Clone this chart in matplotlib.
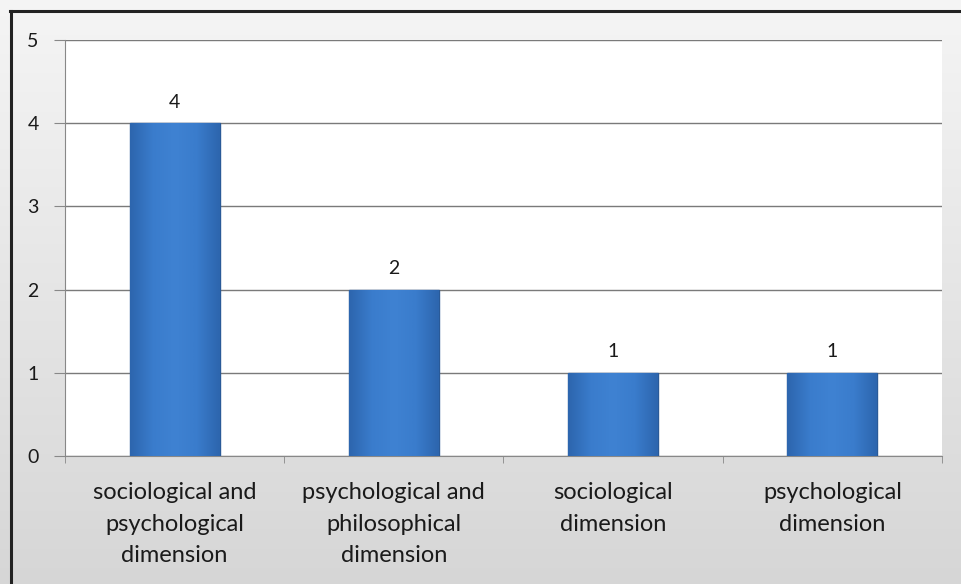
import matplotlib.pyplot as plt
import numpy as np
from matplotlib.lines import Line2D
from matplotlib.colors import LinearSegmentedColormap

categories = ["sociological and\npsychological\ndimension",
              "psychological and\nphilosophical\ndimension",
              "sociological\ndimension",
              "psychological\ndimension"]
counts = [4, 2, 1, 1]
y_ticks = [0, 1, 2, 3, 4, 5]

plt.rcParams['font.family'] = ['Lato', 'DejaVu Sans']

fig = plt.figure(figsize=(9.62, 5.84), dpi=100)

# grey gradient background behind the chart
bg = fig.add_axes([0, 0, 1, 1], zorder=-10)
grad = np.linspace(0, 1, 256).reshape(-1, 1)
top_c = np.array([0.96, 0.96, 0.96])
bot_c = np.array([0.84, 0.84, 0.84])
img = top_c + (bot_c - top_c) * grad[:, :, None]
bg.imshow(img, aspect='auto', extent=[0, 1, 0, 1])
bg.set_axis_off()

# dark frame on top and left
fig.add_artist(Line2D([10 / 962, 1], [573 / 584, 573 / 584], color='#222222', lw=2.2,
                      transform=fig.transFigure))
fig.add_artist(Line2D([10.5 / 962, 10.5 / 962], [0, 573 / 584], color='#222222', lw=2.2,
                      transform=fig.transFigure))

ax = fig.add_axes([65 / 962, 128 / 584, 877 / 962, 416 / 584])
ax.set_facecolor('white')

x = np.arange(len(categories))
bars = ax.bar(x, counts, width=0.41, color='#3674c2', edgecolor='#2a5a98', linewidth=1.0, zorder=3)

# soft horizontal shading in each bar (darker at the sides)
bar_cmap = LinearSegmentedColormap.from_list('barshade', ['#2d66ae', '#3a7ccc', '#3f82d2', '#3a7ccc', '#2d66ae'])
shade = np.linspace(0, 1, 64).reshape(1, -1)
for b in bars:
    x0, y0, w, h = b.get_x(), b.get_y(), b.get_width(), b.get_height()
    im = ax.imshow(shade, cmap=bar_cmap, aspect='auto', extent=[x0, x0 + w, y0, y0 + h],
                   zorder=3.2, interpolation='bicubic')
    im.set_clip_path(b)

for xi, v in zip(x, counts):
    ax.annotate(str(v), (xi, v), xytext=(0, 9), textcoords='offset points',
                ha='center', va='bottom', fontsize=14, color='#1a1a1a')

ax.set_xlim(-0.5, len(categories) - 0.5)
ax.set_ylim(0, 5)
ax.set_yticks(y_ticks)
ax.yaxis.grid(True, color='#7a7a7a', linewidth=1.0, zorder=0)
ax.set_axisbelow(True)

ax.set_xticks(x)
ax.set_xticklabels(categories, fontsize=17, color='#1a1a1a', linespacing=1.62)
ax.set_xticks(np.arange(-0.5, len(categories)), minor=True)
ax.tick_params(axis='x', which='major', length=0, pad=19)
ax.tick_params(axis='x', which='minor', length=5, color='#888888', direction='out')
ax.tick_params(axis='y', length=8, color='#888888', labelsize=14, labelcolor='#1a1a1a', pad=11)

for side in ['top', 'right']:
    ax.spines[side].set_visible(False)
ax.spines['left'].set_color('#888888')
ax.spines['bottom'].set_color('#888888')

fig.savefig('out.png', dpi=100)
